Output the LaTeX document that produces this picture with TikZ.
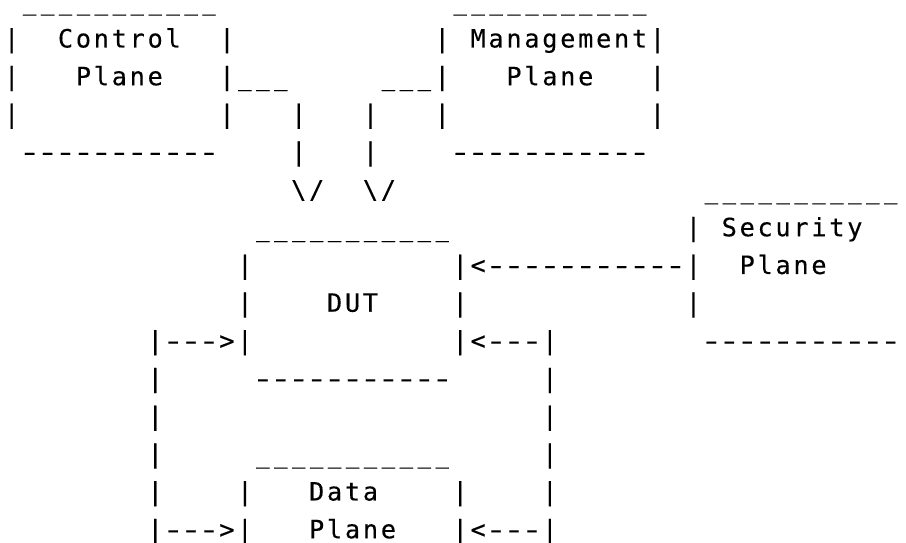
\documentclass[tikz,border=0pt]{standalone}
\usepackage{graphicx}
\usepackage{fontspec}
\newfontfamily\asciifont[FakeBold=0.3]{DejaVu Sans Mono}

% every character sits in a cell of fixed width, on a fixed grid
\newlength\cellw
\setlength\cellw{17.94pt}
\makeatletter
\def\cells#1{\cells@#1\relax}
\def\cells@#1{\ifx\relax#1\else\cellchar{#1}\expandafter\cells@\fi}
% dashes and underscores drawn as equal, slightly spaced strokes
\def\cellchar#1{\makebox[\cellw][c]{%
  \ifx-#1\scalebox{1.45}[1]{-}\else
  \ifx\_#1\scalebox{0.88}[1]{\_}\else#1\fi\fi}}
\makeatother

\tikzset{
  art/.style={inner sep=0pt, outer sep=0pt, anchor=base west,
    font=\asciifont\fontsize{25.2}{30}\selectfont}
}
% \artrun{name}{column}{row}{characters}
\newcommand\artrun[4]{%
  \node[art] (#1) at ({2.73pt+17.94pt*#2}, {495.5pt-37.75pt*(#3-2)}) {\cells{#4}};}

\begin{document}
\begin{tikzpicture}
\useasboundingbox (0,0) rectangle (906pt,543pt);

% Control Plane and Management Plane
\artrun{ctlTop}{1}{1}{\_\_\_\_\_\_\_\_\_\_\_}
\artrun{mgtTop}{25}{1}{\_\_\_\_\_\_\_\_\_\_\_}
\artrun{ctlLa}{0}{2}{|}
\artrun{ctlName}{3}{2}{Control}
\artrun{ctlRa}{12}{2}{|}
\artrun{mgtLa}{24}{2}{|}
\artrun{mgtName}{26}{2}{Management|}
\artrun{ctlLb}{0}{3}{|}
\artrun{ctlPlane}{4}{3}{Plane}
\artrun{ctlOut}{12}{3}{|\_\_\_}
\artrun{mgtOut}{21}{3}{\_\_\_|}
\artrun{mgtPlane}{28}{3}{Plane}
\artrun{mgtRb}{36}{3}{|}
\artrun{ctlLc}{0}{4}{|}
\artrun{ctlRc}{12}{4}{|}
\artrun{ctlDropA}{16}{4}{|}
\artrun{mgtDropA}{20}{4}{|}
\artrun{mgtLc}{24}{4}{|}
\artrun{mgtRc}{36}{4}{|}
\artrun{ctlBot}{1}{5}{-----------}
\artrun{ctlDropB}{16}{5}{|}
\artrun{mgtDropB}{20}{5}{|}
\artrun{mgtBot}{25}{5}{-----------}
\artrun{ctlArrow}{16}{6}{\textbackslash/}
\artrun{mgtArrow}{20}{6}{\textbackslash/}

% Security Plane
\artrun{secTop}{39}{6}{\_\_\_\_\_\_\_\_\_\_\_}
\artrun{secLa}{38}{7}{|}
\artrun{secName}{40}{7}{Security}
\artrun{secLink}{25}{8}{|<-----------|}
\artrun{secPlane}{41}{8}{Plane}
\artrun{secLb}{38}{9}{|}
\artrun{secBot}{39}{10}{-----------}

% DUT
\artrun{dutTop}{14}{7}{\_\_\_\_\_\_\_\_\_\_\_}
\artrun{dutLa}{13}{8}{|}
\artrun{dutLb}{13}{9}{|}
\artrun{dutName}{18}{9}{DUT}
\artrun{dutRb}{25}{9}{|}
\artrun{inLeftA}{8}{10}{|--->|}
\artrun{inRightA}{25}{10}{|<---|}
\artrun{dutBot}{14}{11}{-----------}

% side loops
\artrun{loopLa}{8}{11}{|}
\artrun{loopRa}{30}{11}{|}
\artrun{loopLb}{8}{12}{|}
\artrun{loopRb}{30}{12}{|}
\artrun{loopLc}{8}{13}{|}
\artrun{loopRc}{30}{13}{|}
\artrun{loopLd}{8}{14}{|}
\artrun{loopRd}{30}{14}{|}

% Data Plane
\artrun{dataTop}{14}{13}{\_\_\_\_\_\_\_\_\_\_\_}
\artrun{dataL}{13}{14}{|}
\artrun{dataName}{17}{14}{Data}
\artrun{dataR}{25}{14}{|}
\artrun{inLeftB}{8}{15}{|--->|}
\artrun{dataPlane}{17}{15}{Plane}
\artrun{inRightB}{25}{15}{|<---|}
\end{tikzpicture}
\end{document}
